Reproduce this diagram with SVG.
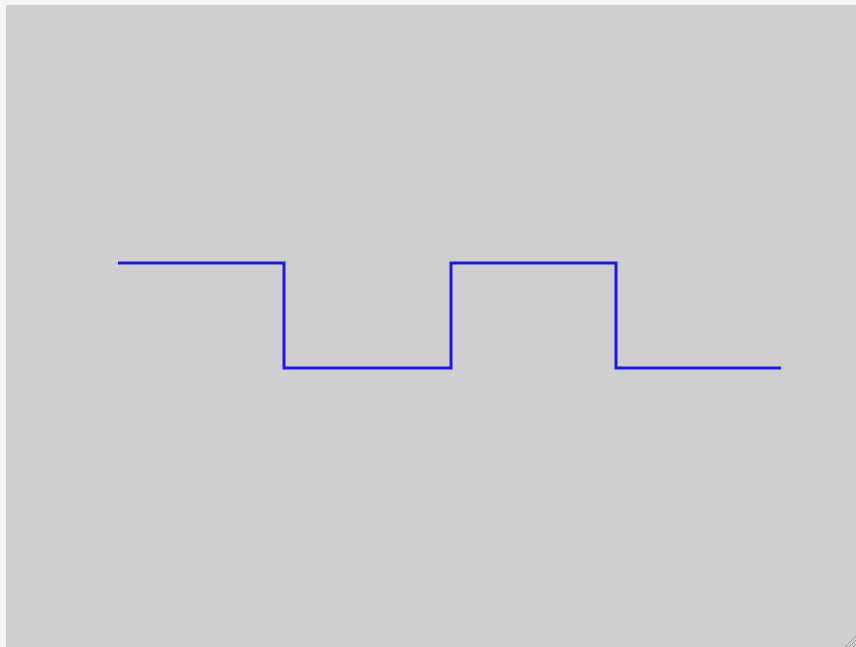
<svg xmlns="http://www.w3.org/2000/svg" width="856" height="647" viewBox="0 0 856 647">
<style>
.sig{fill:none;stroke:#1a1ae6;stroke-width:3;stroke-linejoin:miter;stroke-linecap:butt}
.grip{stroke:#9a9a9a;stroke-width:1}
</style>
<rect x="0" y="0" width="856" height="647" fill="#f4f4f4"/>
<rect x="6" y="5" width="850" height="642" fill="#cfcfcf"/>
<g id="signal">
<polyline class="sig" points="118,263 284,263 284,368 451,368 451,263 616,263 616,368 781,368"/>
</g>
<g id="grip">
<line class="grip" x1="845" y1="647" x2="856" y2="636"/>
<line class="grip" x1="849" y1="647" x2="856" y2="640"/>
<line class="grip" x1="853" y1="647" x2="856" y2="644"/>
</g>
</svg>
